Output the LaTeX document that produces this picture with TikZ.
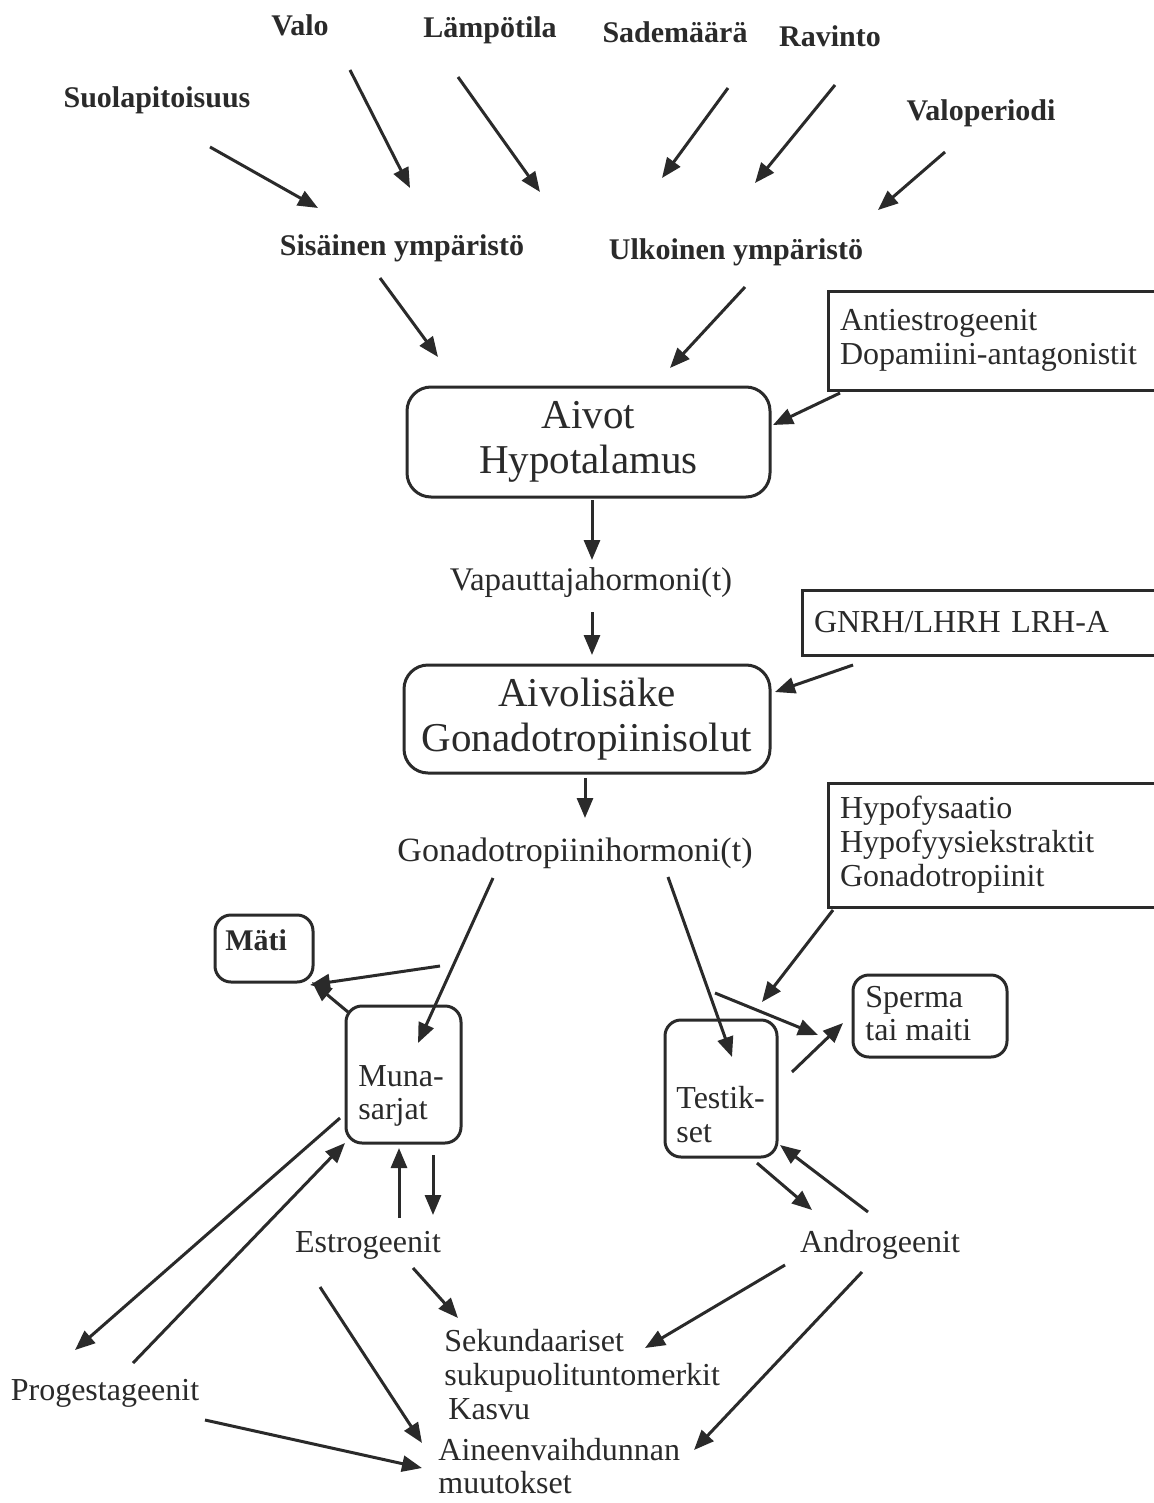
\documentclass[tikz,border=0pt]{standalone}
\usepackage{fontspec}
\setmainfont{Liberation Serif}
\usetikzlibrary{arrows.meta}
\definecolor{ink}{HTML}{2A2A2A}
\begin{document}
\begin{tikzpicture}[x=0.5pt,y=-0.5pt,
  lab/.style={text=ink, inner sep=0pt, font=\fontsize{16}{17}\selectfont},
  toplab/.style={text=ink, inner sep=0pt, font=\fontsize{15}{17}\selectfont\bfseries},
  bigbox/.style={draw=ink, line width=1.5pt, rounded corners=12pt, inner sep=0pt, text=ink, align=center, font=\fontsize{20.5}{22.5}\selectfont},
  smallbox/.style={draw=ink, line width=1.5pt, rounded corners=8pt, inner sep=0pt},
  sqbox/.style={draw=ink, line width=1.5pt, inner xsep=6pt, inner ysep=0pt, text=ink, align=left, font=\fontsize{16}{17}\selectfont},
  arr/.style={draw=ink, line width=1.5pt, -{Triangle[length=10pt,width=8pt]}}]
\useasboundingbox (0,0) rectangle (1154,1503);
\fill[white] (0,0) rectangle (1154,1503);
\clip (0,0) rectangle (1154,1503);

% top labels
\node[toplab] (valo) at (300,25) {Valo};
\node[toplab] (lamp) at (490,30) {Lämpötila};
\node[toplab] (sade) at (675,32) {Sademäärä};
\node[toplab] (ravi) at (830,36) {Ravinto};
\node[toplab] (suola) at (157,100) {Suolapitoisuus};
\node[toplab] (valop) at (981,113) {Valoperiodi};
\node[toplab] (sis) at (402,248) {Sisäinen ympäristö};
\node[toplab] (ulk) at (736,252) {Ulkoinen ympäristö};

% boxes
\node[bigbox, minimum width=181.5pt, minimum height=55pt] (aiv) at (588.5,442) {Aivot\\Hypotalamus};
\node[sqbox, text width=156.5pt, minimum height=49.5pt] (anti) at (996.5,340.5) {Antiestrogeenit\\Dopamiini-antagonistit};
\node[lab, font=\fontsize{16.5}{18}\selectfont] (vap) at (591,583) {Vapauttajahormoni(t)};
\node[sqbox, text width=169.5pt, minimum height=32.5pt] (gnrh) at (983.5,622.5) {GNRH/LHRH LRH-A};
\node[bigbox, minimum width=183pt, minimum height=54pt] (ais) at (587,719) {Aivolisäke\\Gonadotropiinisolut};
\node[lab, font=\fontsize{17}{18}\selectfont] (gon) at (575,853) {Gonadotropiinihormoni(t)};
\node[sqbox, text width=156.5pt, minimum height=62pt] (hyp) at (996.5,845) {Hypofysaatio\\Hypofyysiekstraktit\\Gonadotropiinit};

\node[smallbox, minimum width=49pt, minimum height=33.5pt] (mati) at (264,948.5) {};
\node[toplab, anchor=west] (matiT) at (225,940) {Mäti};
\node[smallbox, minimum width=57.5pt, minimum height=68.5pt] (muna) at (403.5,1074.5) {};
\node[lab, anchor=west, align=left, font=\fontsize{16}{16.5}\selectfont] (munaT) at (358,1096) {Muna-\\sarjat};
\node[smallbox, minimum width=56pt, minimum height=68.5pt] (test) at (721,1088.5) {};
\node[lab, anchor=west, align=left, font=\fontsize{16}{17}\selectfont] (testT) at (676,1115) {Testik-\\set};
\node[smallbox, minimum width=77pt, minimum height=41pt] (sper) at (930,1016) {};
\node[lab, anchor=west, align=left, font=\fontsize{16}{16.5}\selectfont] (sperT) at (865,1014) {Sperma\\tai maiti};

\node[lab] (estr) at (368,1245) {Estrogeenit};
\node[lab] (andr) at (880,1245) {Androgeenit};
\node[lab] (prog) at (105,1393) {Progestageenit};
\node[lab, anchor=west, align=left] (sek) at (444,1375) {Sekundaariset\\sukupuolituntomerkit\\\hspace{2pt}Kasvu};
\node[lab, anchor=west, align=left, font=\fontsize{16}{16.5}\selectfont] (ain) at (438,1466) {Aineenvaihdunnan\\muutokset};

\coordinate (matiIn) at (440,966);
\coordinate (spIn) at (715,993);

% arrows
\draw[arr] ([shift={(53,47)}]suola.center) -- ([shift={(-84,-40)}]sis.center);
\draw[arr] ([shift={(50,45)}]valo.center) -- ([shift={(8,-60)}]sis.center);
\draw[arr] ([shift={(-32,47)}]lamp.center) -- ([shift={(138,-56)}]sis.center);
\draw[arr] ([shift={(53,56)}]sade.center) -- ([shift={(-74,-74)}]ulk.center);
\draw[arr] ([shift={(5,49)}]ravi.center) -- ([shift={(19,-69)}]ulk.center);
\draw[arr] ([shift={(-36,39)}]valop.center) -- ([shift={(142,-42)}]ulk.center);
\draw[arr] ([shift={(-22,30)}]sis.center) -- ([shift={(-150.5,-85)}]aiv.center);
\draw[arr] ([shift={(9,35)}]ulk.center) -- ([shift={(81.5,-74)}]aiv.center);
\draw[arr] ([shift={(-156.5,52.5)}]anti.center) -- ([shift={(184.5,-17)}]aiv.center);
\draw[arr] ([shift={(3.5,58)}]aiv.center) -- ([shift={(1,-23)}]vap.center);
\draw[arr] ([shift={(1,29)}]vap.center) -- ([shift={(5,-64)}]ais.center);
\draw[arr] ([shift={(-130.5,42.5)}]gnrh.center) -- ([shift={(188,-27)}]ais.center);
\draw[arr] ([shift={(-2,59)}]ais.center) -- ([shift={(10,-35)}]gon.center);
\draw[arr] ([shift={(-163.5,65)}]hyp.center) -- ([shift={(41,-86.5)}]test.center);
\draw[arr] ([shift={(-82,25)}]gon.center) -- ([shift={(14.5,-31.5)}]muna.center);
\draw[arr] ([shift={(93,24)}]gon.center) -- ([shift={(11,-31.5)}]test.center);
\draw[arr] (matiIn) -- ([shift={(46,36.5)}]mati.center);
\draw[arr] ([shift={(-55.5,-62.5)}]muna.center) -- ([shift={(48,33.5)}]mati.center);
\draw[arr] (spIn) -- ([shift={(-112,19)}]sper.center);
\draw[arr] ([shift={(71,-16.5)}]test.center) -- ([shift={(-87,7)}]sper.center);
\draw[arr] ([shift={(36,74.5)}]test.center) -- ([shift={(-68,-35)}]andr.center);
\draw[arr] ([shift={(-12,-33)}]andr.center) -- ([shift={(59,56.5)}]test.center);
\draw[arr] ([shift={(31,-27)}]estr.center) -- ([shift={(-4.5,73.5)}]muna.center);
\draw[arr] ([shift={(29.5,80.5)}]muna.center) -- ([shift={(65,-30)}]estr.center);
\draw[arr] ([shift={(-63.5,43.5)}]muna.center) -- ([shift={(-30,-43)}]prog.center);
\draw[arr] ([shift={(28,-30)}]prog.center) -- ([shift={(-58.5,68.5)}]muna.center);
\draw[arr] ([shift={(45,23)}]estr.center) -- ([shift={(14,-57)}]sek.west);
\draw[arr] ([shift={(-48,42)}]estr.center) -- ([shift={(-16,-23)}]ain.west);
\draw[arr] ([shift={(100,27)}]prog.center) -- ([shift={(-16,2)}]ain.west);
\draw[arr] ([shift={(-95,20)}]andr.center) -- ([shift={(201,-27)}]sek.west);
\draw[arr] ([shift={(-18,27)}]andr.center) -- ([shift={(256,-16)}]ain.west);
\end{tikzpicture}
\end{document}
